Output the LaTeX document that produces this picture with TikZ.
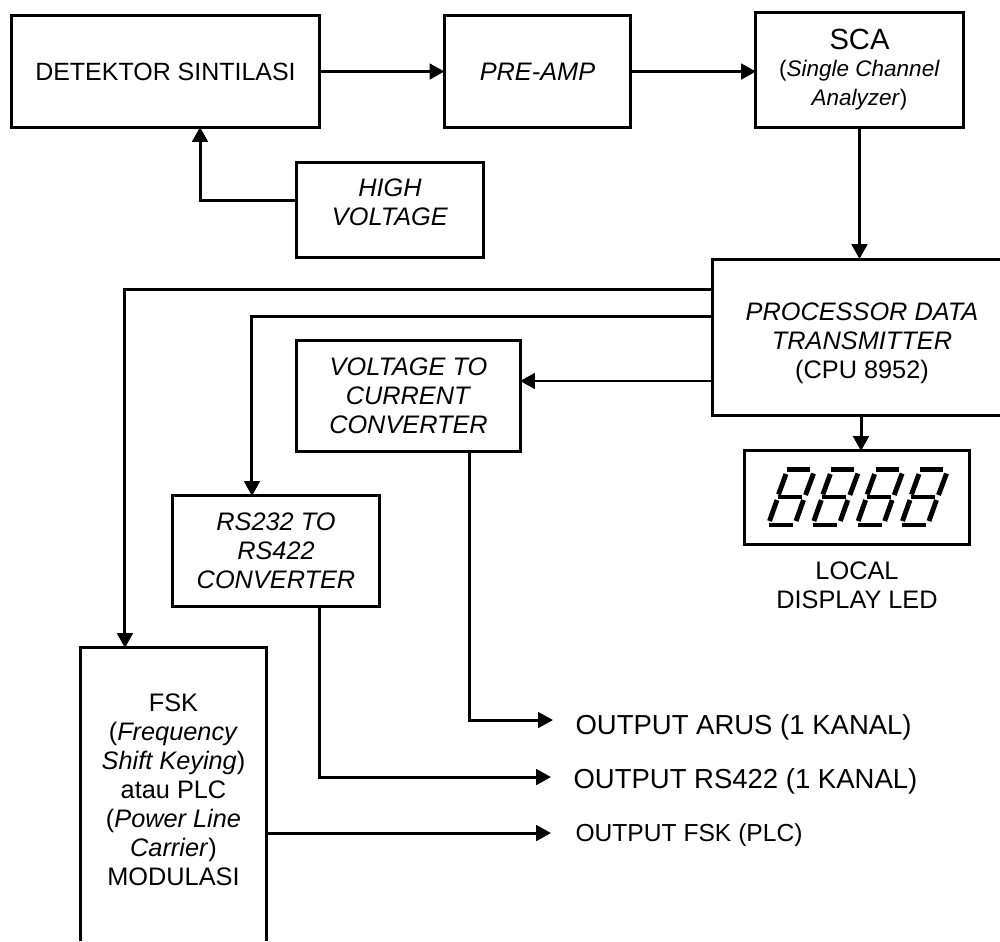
\documentclass[tikz,border=0pt]{standalone}
\usepackage{fontspec}
\setmainfont{Liberation Sans}
\usepackage{xcolor}
\usetikzlibrary{positioning, arrows.meta}
\newcommand{\lift}[1]{\\[#1]\mbox{}}
\newcommand{\subfont}{\fontsize{6.4pt}{7.6pt}\selectfont}

\begin{document}
\begin{tikzpicture}[x=.01cm, y=-.01cm, >={Triangle[length=4.2pt, width=4.4pt]}, line width=.85pt,
    box/.style={draw, align=center, inner sep=0pt, outer sep=0pt, font=\fontsize{7.2pt}{8.25pt}\selectfont},
    outtext/.style={anchor=west, inner sep=0pt, inner xsep=.21cm, text depth=1.64pt, font=\fontsize{7.82pt}{9pt}\selectfont}]
    \useasboundingbox (0,0) rectangle (1000,941);

    \node[box, font=\fontsize{7.1pt}{8.25pt}\selectfont, minimum width=3.07cm, minimum height=1.11cm] (det) at (165.5,71.5) {DETEKTOR SINTILASI};
    \node[box, minimum width=1.86cm, minimum height=1.11cm] (preamp) at (537.5,71.5) {\textit{PRE-AMP}};
    \node[box, minimum width=2.07cm, minimum height=1.15cm] (sca) at (859.5,70) {\fontsize{8.3pt}{9pt}\selectfont SCA\\[-.6pt]
        \subfont (\textit{Single Channel}\\\subfont\textit{Analyzer})};
    \node[box, minimum width=1.86cm, minimum height=.94cm] (hv) at (390,210) {\textit{HIGH}\\\textit{VOLTAGE}\lift{-3.98pt}};
    \node[box, minimum width=2.23cm, minimum height=1.10cm] (v2i) at (408.5,396) {\textit{VOLTAGE TO}\\\textit{CURRENT}\\\textit{CONVERTER}};
    \node[box, minimum width=2.07cm, minimum height=1.10cm] (rs) at (276,551) {\textit{RS232 TO}\\\textit{RS422}\\\textit{CONVERTER}};
    \node[box, minimum width=2.24cm, minimum height=.93cm] (led) at (857,497.5) {};
    \node[box, draw=none] (cpu) at (862,343) {\textit{PROCESSOR DATA}\\\textit{TRANSMITTER}\\(CPU 8952)};
    \node[box, draw=none, minimum width=1.85cm, minimum height=2.93cm] (fsk) at (173.5,794.5) {FSK\\(\textit{Frequency}\\\textit{Shift Keying})\\atau PLC\\(\textit{Power Line}\\\textit{Carrier})\\MODULASI\lift{-5.4pt}};
    \node[box, draw=none, below=.18cm of led] (ledtext) {LOCAL\\DISPLAY LED};

    \node[outtext, text height=9.6pt] (oarus) at (553,720) {OUTPUT ARUS (1 KANAL)};
    \node[outtext, text height=8.34pt] (ors) at (551,777) {OUTPUT RS422 (1 KANAL)};
    \node[outtext, inner xsep=.23cm, text height=6.5pt, text depth=1.5pt, font=\fontsize{7pt}{8pt}\selectfont] (ofsk) at (551,833) {OUTPUT FSK (PLC)};

    \coordinate (cpunw) at (712,259);
    \coordinate (cpune) at (1000,259);
    \coordinate (cpusw) at (712,415);
    \coordinate (cpuse) at (1000,415);

    % these two run off the page on one side
    \draw (cpune) -- (cpunw) -- (cpusw) -- (cpuse);
    \draw (fsk.south west) |- (fsk.north east) -- (fsk.south east);

    % digits of the display
    \foreach \d in {0,...,3} {
        \begin{scope}[xshift=\d*.443cm, line width=1.4pt]
            \draw (787,469.5) -- (810,469.5);
            \draw (778,497) -- (802,497);
            \draw (769,525) -- (793,525);
            \draw (786,474) -- (778.5,494.5);
            \draw (813.5,473.5) -- (805.5,495);
            \draw (777,500) -- (769.5,521);
            \draw (803.5,500) -- (796,521);
        \end{scope}
    }

    \draw[->] (det) -- (preamp);
    \draw[->] (preamp) -- (sca.west |- preamp);
    \draw[->] ([yshift=.1cm]hv.west) -| ([xshift=.345cm]det.south);
    \draw[->] (sca.south) -- (sca.south |- cpunw);
    \draw[->] ([yshift=-.3cm]cpunw) -| ([xshift=-.485cm]fsk.north);
    \draw[->] ([yshift=-.57cm]cpunw) -| ([xshift=-.24cm]rs.north);
    \draw[->] ([yshift=.34cm]cpusw) -- ([yshift=.34cm]cpusw -| v2i.east);
    \draw[->] ([xshift=.04cm]led.north |- cpusw) -- ([xshift=.04cm]led.north);
    \draw[->] ([xshift=.605cm]v2i.south) |- (oarus.west);
    \draw[->] ([xshift=.43cm]rs.south) |- (ors.west);
    \draw[->] (fsk.east |- ofsk.west) -- (ofsk.west);
\end{tikzpicture}
\end{document}
